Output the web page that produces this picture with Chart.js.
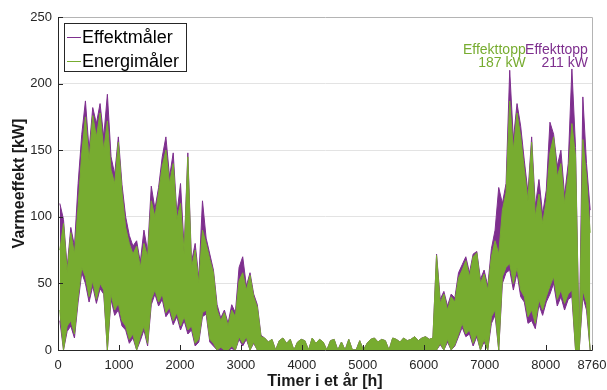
<!DOCTYPE html>
<html>
<head>
<meta charset="utf-8">
<script src="https://cdn.jsdelivr.net/npm/chart.js@4/dist/chart.umd.min.js"></script>
<style>
  html, body { margin: 0; padding: 0; background: #ffffff; }
  #wrap { width: 607px; height: 390px; }
</style>
</head>
<body>
<div id="wrap"><canvas id="c" width="607" height="390"></canvas></div>
<script>
// Hourly heat load over one year, summarised per 60-hour block as the
// highest and lowest reading inside the block.
const BIN_HOURS = 60;

const xTickValues = [0, 1000, 2000, 3000, 4000, 5000, 6000, 7000, 8000, 8760];
const yTickValues = [0, 50, 100, 150, 200, 250];

const seriesNames = ['Effektmåler', 'Energimåler'];

// Effektmåler (power meter), kW
const effektHigh = [
  110, 98, 62, 92, 78, 125, 162, 187, 150, 182,
  170, 185, 160, 192, 145, 132, 160, 124, 100, 86,
  78, 82, 66, 90, 74, 123, 106, 122, 145, 160,
  130, 148, 102, 125, 76, 148, 66, 80, 54, 112,
  84, 72, 60, 34, 24, 30, 20, 34, 28, 62,
  70, 48, 58, 42, 34, 11,
  9, 6, 8, 0, 7, 9, 5, 8, 0, 6,
  8, 7, 0, 9, 5, 8, 6, 0, 7, 8,
  0, 6, 0, 8, 0, 0, 7, 0, 5, 8,
  9, 6, 8, 7, 0, 9, 8, 6, 9, 7,
  8, 10, 7, 9, 10, 8, 9,
  72, 38, 44, 33, 42, 39, 58,
  64, 70, 58, 72, 74, 53, 60, 48, 76, 90,
  122, 110, 125, 210, 158, 185, 168, 142, 118, 160,
  108, 128, 102, 120, 171, 162, 138, 150, 116, 140,
  211, 152, 5, 190, 140, 105
];
const effektLow = [
  22, 0, 14, 18, 9, 36, 58, 50, 36, 48,
  35, 46, 42, 0, 38, 26, 30, 18, 15, 5,
  9, 0, 7, 15, 3, 34, 42, 33, 38, 25,
  29, 19, 25, 15, 22, 12, 15, 3, 6, 25,
  27, 6, 3, 0, 0, 0, 0, 1, 0, 8,
  3, 8, 0, 5, 0, 0,
  0, 0, 0, 0, 0, 0, 0, 0, 0, 0,
  0, 0, 0, 0, 0, 0, 0, 0, 0, 0,
  0, 0, 0, 0, 0, 0, 0, 0, 0, 0,
  0, 0, 0, 0, 0, 0, 0, 0, 0, 0,
  0, 0, 0, 0, 0, 0, 0,
  0, 4, 0, 6, 0, 3, 10,
  17, 10, 12, 3, 10, 0, 6, 0, 20, 26,
  0, 50, 58, 60, 45, 58, 40, 36, 20, 22,
  16, 34, 26, 36, 42, 50, 33, 40, 30, 38,
  40, 0, 0, 40, 30, 0
];

// Energimåler (energy meter), kW
const energiHigh = [
  75, 95, 58, 88, 72, 108, 148, 175, 142, 176,
  160, 178, 150, 172, 135, 125, 156, 118, 92, 80,
  72, 78, 62, 80, 70, 112, 100, 118, 138, 150,
  125, 140, 98, 110, 72, 145, 62, 75, 50, 90,
  80, 68, 58, 30, 22, 28, 18, 30, 25, 52,
  58, 45, 56, 40, 32, 10,
  9, 6, 8, 0, 7, 9, 5, 8, 0, 6,
  8, 7, 0, 9, 5, 8, 6, 0, 7, 8,
  0, 6, 0, 8, 0, 0, 7, 0, 5, 8,
  9, 6, 8, 7, 0, 9, 8, 6, 9, 7,
  8, 10, 7, 9, 10, 8, 9,
  71, 35, 42, 30, 40, 36, 54,
  60, 67, 55, 70, 73, 50, 57, 45, 70, 82,
  72, 105, 118, 187, 150, 178, 160, 135, 112, 156,
  100, 117, 95, 112, 148, 160, 130, 140, 110, 132,
  170, 145, 5, 158, 130, 88
];
const energiLow = [
  30, 0, 18, 22, 12, 40, 62, 55, 40, 52,
  38, 50, 45, 0, 42, 30, 35, 22, 18, 8,
  12, 0, 10, 18, 5, 38, 45, 36, 42, 28,
  32, 22, 28, 18, 25, 15, 18, 5, 8, 28,
  30, 8, 5, 0, 2, 0, 0, 3, 0, 10,
  5, 10, 0, 6, 0, 0,
  0, 0, 0, 0, 0, 0, 0, 0, 0, 0,
  0, 0, 0, 0, 0, 0, 0, 0, 0, 0,
  0, 0, 0, 0, 0, 0, 0, 0, 0, 0,
  0, 0, 0, 0, 0, 0, 0, 0, 0, 0,
  0, 0, 0, 0, 0, 0, 0,
  0, 5, 0, 8, 0, 4, 12,
  20, 12, 15, 5, 12, 0, 8, 0, 25, 30,
  0, 55, 62, 65, 50, 62, 45, 40, 25, 30,
  20, 38, 30, 40, 48, 55, 38, 45, 35, 42,
  45, 0, 0, 45, 35, 0
];

const PURPLE = '#7E2F8E';
const GREEN = '#77AC30';
const FONT = '"Liberation Sans", Arial, Helvetica, sans-serif';
const AXIS = '#262626';

// One point per block, placed at the block's midpoint.
function blockPoints(values) {
  return values.map((v, i) => ({ x: i * BIN_HOURS + BIN_HOURS / 2, y: v }));
}

// A series is drawn as its upper edge filled down to its lower edge.
function seriesDatasets(name, high, low, color, order) {
  return [
    { label: name, data: blockPoints(high), borderColor: color, backgroundColor: color,
      borderWidth: 1, fill: '+1', order: order, isUpper: true },
    { label: name, data: blockPoints(low), borderColor: color, backgroundColor: color,
      borderWidth: 1, fill: false, order: order, isUpper: false }
  ];
}

// Frame, inward tick marks, legend box and peak labels.
const decorations = {
  id: 'decorations',
  afterDraw(chart) {
    const { ctx, chartArea: a, scales: { x, y } } = chart;
    ctx.save();

    // top and right edges of the axes box
    ctx.strokeStyle = '#b4b4b4';
    ctx.lineWidth = 1;
    ctx.beginPath();
    ctx.moveTo(Math.round(a.left) + 0.5, Math.round(a.top) + 0.5);
    ctx.lineTo(Math.round(a.right) + 0.5, Math.round(a.top) + 0.5);
    ctx.lineTo(Math.round(a.right) + 0.5, Math.round(a.bottom) + 0.5);
    ctx.stroke();

    // inward ticks
    ctx.strokeStyle = AXIS;
    ctx.beginPath();
    xTickValues.forEach(v => {
      const px = Math.round(x.getPixelForValue(v)) + 0.5;
      ctx.moveTo(px, a.bottom);
      ctx.lineTo(px, a.bottom - 5);
    });
    yTickValues.forEach(v => {
      const py = Math.round(y.getPixelForValue(v)) + 0.5;
      ctx.moveTo(a.left, py);
      ctx.lineTo(a.left + 5, py);
    });
    ctx.stroke();

    const uppers = chart.data.datasets.filter(ds => ds.isUpper);

    // peak labels
    const peaks = uppers.map(ds => {
      let best = ds.data[0];
      ds.data.forEach(p => { if (p.y > best.y) best = p; });
      return { point: best, color: ds.borderColor };
    });
    const top = Math.max(...peaks.map(p => p.point.y));
    const baseY = y.getPixelForValue(top) - 2;
    ctx.font = '14px ' + FONT;
    ctx.textAlign = 'right';
    ctx.textBaseline = 'alphabetic';
    peaks.forEach(p => {
      const px = x.getPixelForValue(p.point.x) + 16;
      ctx.fillStyle = p.color;
      ctx.fillText('Effekttopp', px, baseY - 13);
      ctx.fillText(Math.round(p.point.y) + ' kW', px, baseY);
    });

    // legend
    const lx = Math.round(a.left) + 6, ly = Math.round(a.top) + 6;
    const lw = 122, lh = 48;
    ctx.fillStyle = '#ffffff';
    ctx.fillRect(lx, ly, lw, lh);
    ctx.strokeStyle = AXIS;
    ctx.lineWidth = 1;
    ctx.strokeRect(lx + 0.5, ly + 0.5, lw, lh);
    ctx.font = '18px ' + FONT;
    ctx.textAlign = 'left';
    ctx.textBaseline = 'middle';
    uppers.forEach((ds, i) => {
      const rowY = ly + 14 + i * 24;
      ctx.strokeStyle = ds.borderColor;
      ctx.beginPath();
      ctx.moveTo(lx + 3, rowY + 0.5);
      ctx.lineTo(lx + 17, rowY + 0.5);
      ctx.stroke();
      ctx.fillStyle = '#000000';
      ctx.fillText(ds.label, lx + 18, rowY + 1);
    });

    ctx.restore();
  }
};

new Chart(document.getElementById('c'), {
  type: 'line',
  data: {
    datasets: [
      ...seriesDatasets(seriesNames[0], effektHigh, effektLow, PURPLE, 2),
      ...seriesDatasets(seriesNames[1], energiHigh, energiLow, GREEN, 1)
    ]
  },
  options: {
    responsive: false,
    animation: false,
    devicePixelRatio: 1,
    parsing: false,
    layout: { padding: { top: 17, right: 15, left: 0, bottom: 0 } },
    elements: { point: { radius: 0 }, line: { tension: 0 } },
    plugins: { legend: { display: false }, tooltip: { enabled: false },
               filler: { propagate: false } },
    scales: {
      x: {
        type: 'linear', min: 0, max: 8760,
        afterBuildTicks: s => { s.ticks = xTickValues.map(v => ({ value: v })); },
        afterFit: s => { s.height = 40; s.paddingLeft = 0; s.paddingRight = 15; },
        grid: { display: false, drawTicks: false },
        border: { display: true, color: AXIS, width: 1 },
        ticks: { color: AXIS, font: { family: FONT, size: 13 }, padding: 8,
                 maxRotation: 0, autoSkip: false, callback: v => String(v) },
        title: { display: true, text: 'Timer i et år [h]', color: '#1a1a1a',
                 font: { family: FONT, size: 16, weight: 'bold', lineHeight: 1 },
                 padding: { top: 0, bottom: 0 } }
      },
      y: {
        min: 0, max: 250,
        afterBuildTicks: s => { s.ticks = yTickValues.map(v => ({ value: v })); },
        afterFit: s => { s.width = 58; },
        grid: { drawTicks: false,
                color: c => (c.tick.value === 0 || c.tick.value === 250) ? 'rgba(0,0,0,0)' : '#e3e3e3' },
        border: { display: true, color: AXIS, width: 1 },
        ticks: { color: AXIS, font: { family: FONT, size: 13 }, padding: 6,
                 callback: v => String(v) },
        title: { display: true, text: 'Varmeeffekt [kW]', color: '#1a1a1a',
                 font: { family: FONT, size: 16, weight: 'bold', lineHeight: 1 },
                 padding: { top: 12, bottom: 0 } }
      }
    }
  },
  plugins: [decorations]
});
</script>
</body>
</html>
